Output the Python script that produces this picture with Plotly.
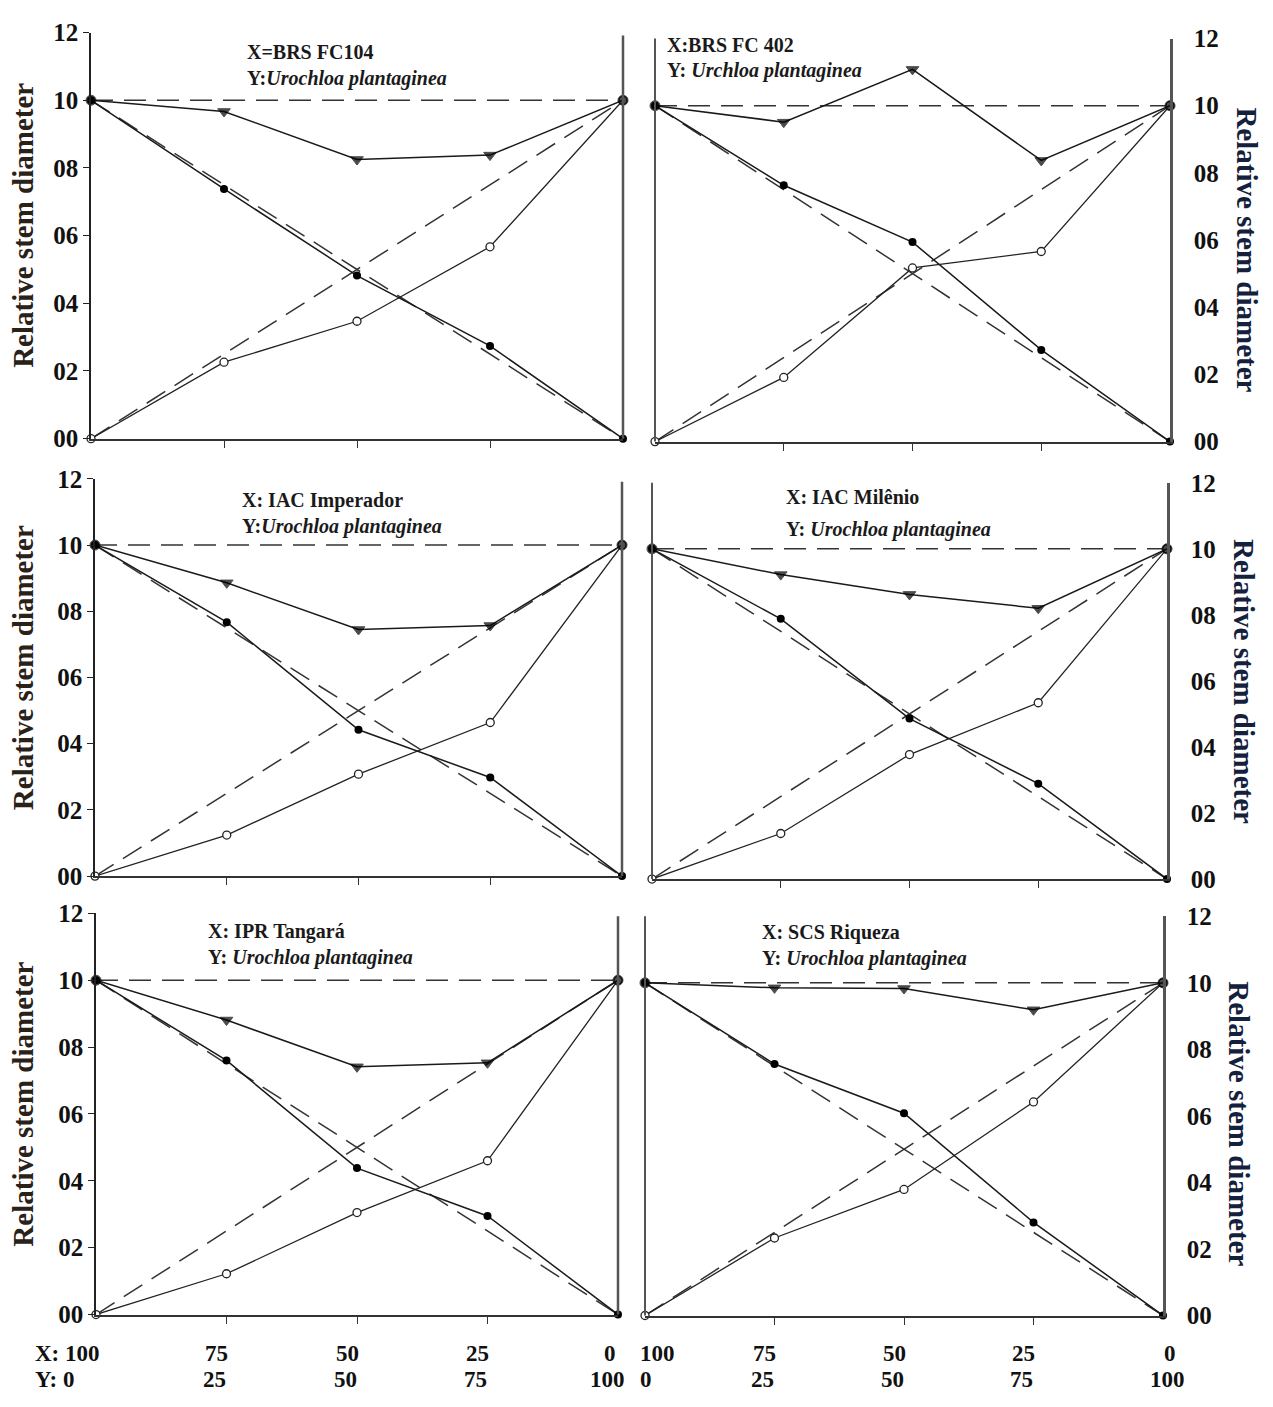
import plotly.graph_objects as go

# ---------------- data ----------------
x_prop = [0, 25, 50, 75, 100]          # proportion of Y (weed) in the mixture
x_tick_X = ["100", "75", "50", "25", "0"]
x_tick_Y = ["0", "25", "50", "75", "100"]
y_tickvals = [0, 0.2, 0.4, 0.6, 0.8, 1.0, 1.2]
y_ticktext = ["00", "02", "04", "06", "08", "10", "12"]

exp_x = [0, 100]
exp_total = [1.0, 1.0]
exp_crop = [1.0, 0.0]
exp_weed = [0.0, 1.0]

labels_x = ["X=BRS FC104", "X:BRS FC 402", "X: IAC Imperador",
            "X: IAC Milênio", "X: IPR Tangará", "X: SCS Riqueza"]
labels_y_prefix = ["Y:", "Y: ", "Y:", "Y: ", "Y: ", "Y: "]
labels_y_species = ["Urochloa plantaginea", "Urchloa plantaginea", "Urochloa plantaginea",
                    "Urochloa plantaginea", "Urochloa plantaginea", "Urochloa plantaginea"]

total_fc104 = [1.0, 0.967, 0.825, 0.838, 1.0]
crop_fc104 = [1.0, 0.738, 0.482, 0.274, 0.0]
weed_fc104 = [0.0, 0.226, 0.347, 0.567, 1.0]

total_fc402 = [1.0, 0.951, 1.108, 0.837, 1.0]
crop_fc402 = [1.0, 0.763, 0.594, 0.273, 0.0]
weed_fc402 = [0.0, 0.191, 0.517, 0.566, 1.0]

total_imp = [1.0, 0.886, 0.745, 0.757, 1.0]
crop_imp = [1.0, 0.767, 0.442, 0.298, 0.0]
weed_imp = [0.0, 0.124, 0.308, 0.464, 1.0]

total_mil = [1.0, 0.922, 0.862, 0.820, 1.0]
crop_mil = [1.0, 0.788, 0.486, 0.289, 0.0]
weed_mil = [0.0, 0.138, 0.377, 0.534, 1.0]

total_tan = [1.0, 0.881, 0.741, 0.753, 1.0]
crop_tan = [1.0, 0.760, 0.438, 0.295, 0.0]
weed_tan = [0.0, 0.122, 0.305, 0.460, 1.0]

total_riq = [1.0, 0.985, 0.983, 0.919, 1.0]
crop_riq = [1.0, 0.756, 0.608, 0.280, 0.0]
weed_riq = [0.0, 0.233, 0.379, 0.642, 1.0]

totals = [total_fc104, total_fc402, total_imp, total_mil, total_tan, total_riq]
crops = [crop_fc104, crop_fc402, crop_imp, crop_mil, crop_tan, crop_riq]
weeds = [weed_fc104, weed_fc402, weed_imp, weed_mil, weed_tan, weed_riq]

# ---------------- layout geometry (pixels) ----------------
W, H = 1273, 1407
# left, right, top(1.2), bottom(0), side of value axis
boxes = [
    (91, 623, 20, 434, "left"),
    (655, 1170, 26, 437, "right"),
    (95, 622, 475, 880, "left"),
    (652, 1167, 479, 883, "right"),
    (96, 618, 918, 1327, "left"),
    (645, 1163, 921, 1328, "right"),
]
label_pos = [(245, 40, 67), (665, 33, 59), (240, 497, 524),
             (784, 493, 527), (206, 936, 963), (760, 937, 964)]
title_pos = [(23, 217), (1247, 241), (23, 668), (1244, 681), (23, 1113), (1239, 1132)]


def px(v):
    return v / W


def py(v):
    return 1 - v / H


SERIF = "Liberation Serif"
fig = go.Figure()
annotations = []
shapes = []
layout = {}

dash_style = "22px,11px"
for i in range(6):
    k = i + 1
    xa = "x" if k == 1 else f"x{k}"
    ya = "y" if k == 1 else f"y{k}"
    l, r, t, b, side = boxes[i]

    # expected (dashed) lines
    for ys in (exp_total, exp_crop, exp_weed):
        fig.add_trace(go.Scatter(x=exp_x, y=ys, mode="lines", xaxis=xa, yaxis=ya,
                                 line=dict(color="#333333", width=1.5, dash=dash_style),
                                 showlegend=False, hoverinfo="skip", cliponaxis=False))
    # weed (open circles)
    fig.add_trace(go.Scatter(x=x_prop, y=weeds[i], mode="lines+markers", xaxis=xa, yaxis=ya,
                             line=dict(color="#222222", width=1.3),
                             marker=dict(symbol="circle", size=8, color="white",
                                         line=dict(color="#222222", width=1.3)),
                             showlegend=False, cliponaxis=False))
    # crop (filled circles)
    fig.add_trace(go.Scatter(x=x_prop, y=crops[i], mode="lines+markers", xaxis=xa, yaxis=ya,
                             line=dict(color="#1a1a1a", width=1.5),
                             marker=dict(symbol="circle", size=8, color="#000000"),
                             showlegend=False, cliponaxis=False))
    # total (inverted triangles)
    sym = ["circle"] + ["triangle-down"] * (len(x_prop) - 2) + ["circle"]
    sz = [10] + [11] * (len(x_prop) - 2) + [10]
    fig.add_trace(go.Scatter(x=x_prop, y=totals[i], mode="lines+markers", xaxis=xa, yaxis=ya,
                             line=dict(color="#1a1a1a", width=1.5),
                             marker=dict(symbol=sym, size=sz, color="#000000",
                                         line=dict(color="#000000", width=1)),
                             showlegend=False, cliponaxis=False))

    xkey = "xaxis" if k == 1 else f"xaxis{k}"
    ykey = "yaxis" if k == 1 else f"yaxis{k}"
    layout[xkey] = dict(domain=[px(l), px(r)], anchor=ya, range=[0, 100],
                        showline=True, linecolor="#333333", linewidth=2,
                        ticks="outside", tickvals=[25, 50, 75], ticklen=7,
                        tickcolor="#333333", tickwidth=1.3,
                        showticklabels=False, showgrid=False, zeroline=False)
    yax = dict(domain=[py(b), py(t)], anchor=xa, range=[0, 1.2],
               tickvals=y_tickvals, ticktext=y_ticktext,
               tickfont=dict(family=SERIF, size=25, color="#111111", weight="bold"),
               showgrid=False, zeroline=False, side=side)
    if side == "left":
        yax.update(showline=True, linecolor="#222222", linewidth=1.5,
                   ticks="outside", ticklen=6, tickcolor="#222222")
        # right frame line
        shapes.append(dict(type="line", xref="paper", yref="paper",
                           x0=px(r), x1=px(r), y0=py(b), y1=py(t + 3),
                           line=dict(color="#555555", width=2.5)))
    else:
        yax.update(showline=True, linecolor="#555555", linewidth=2.5,
                   ticks="", ticklabelstandoff=16)
        shapes.append(dict(type="line", xref="paper", yref="paper",
                           x0=px(l), x1=px(l), y0=py(b), y1=py(t),
                           line=dict(color="#555555", width=2)))
    layout[ykey] = yax

    # panel labels
    lx, ly1, ly2 = label_pos[i]
    annotations.append(dict(text=f"<b>{labels_x[i]}</b>", xref="paper", yref="paper",
                            x=px(lx), y=py(ly1), xanchor="left", yanchor="middle",
                            showarrow=False, font=dict(family=SERIF, size=20, color="#1a1a1a")))
    annotations.append(dict(text=f"<b>{labels_y_prefix[i]}<i>{labels_y_species[i]}</i></b>",
                            xref="paper", yref="paper",
                            x=px(lx), y=py(ly2), xanchor="left", yanchor="middle",
                            showarrow=False, font=dict(family=SERIF, size=20, color="#1a1a1a")))
    # axis titles
    tx, ty = title_pos[i]
    annotations.append(dict(text="<b>Relative stem diameter</b>", xref="paper", yref="paper",
                            x=px(tx), y=py(ty), xanchor="center", yanchor="middle",
                            textangle=-90 if side == "left" else 90, showarrow=False,
                            font=dict(family=SERIF, size=29,
                                      color="#2a2118" if side == "left" else "#14213d")))

# bottom tick labels (proportions) under the last row
row1_y, row2_y = py(1367), py(1393)
for col, k in ((0, 5), (1, 6)):
    xa = f"x{k}"
    for j, xv in enumerate(x_prop):
        tX = x_tick_X[j]
        tY = x_tick_Y[j]
        if col == 0 and j == 0:
            tX, tY = "X: " + tX, "Y: " + tY
            specs = [(tX, row1_y, "left", -63), (tY, row2_y, "left", -63)]
        elif col == 1 and j == 0:
            specs = [(tX, row1_y, "left", -7), (tY, row2_y, "left", -7)]
        elif col == 1 and j == len(x_prop) - 1:
            specs = [(tX, row1_y, "center", 7), (tY, row2_y, "center", 4)]
        elif col == 0 and j == len(x_prop) - 1:
            specs = [(tX, row1_y, "center", -8), (tY, row2_y, "center", -11)]
        else:
            specs = [(tX, row1_y, "center", -10), (tY, row2_y, "center", -12)]
        for txt, yy, anc, sh in specs:
            annotations.append(dict(text=f"<b>{txt}</b>", xref=xa, yref="paper",
                                    x=xv, y=yy, xanchor=anc, yanchor="middle",
                                    xshift=sh, showarrow=False,
                                    font=dict(family=SERIF, size=23, color="#111111")))

fig.update_layout(width=W, height=H, margin=dict(l=0, r=0, t=0, b=0),
                  paper_bgcolor="white", plot_bgcolor="white",
                  showlegend=False, annotations=annotations, shapes=shapes, **layout)

fig.write_html("out.html", config={"displayModeBar": False},
               post_script="document.body.style.margin='0';")
